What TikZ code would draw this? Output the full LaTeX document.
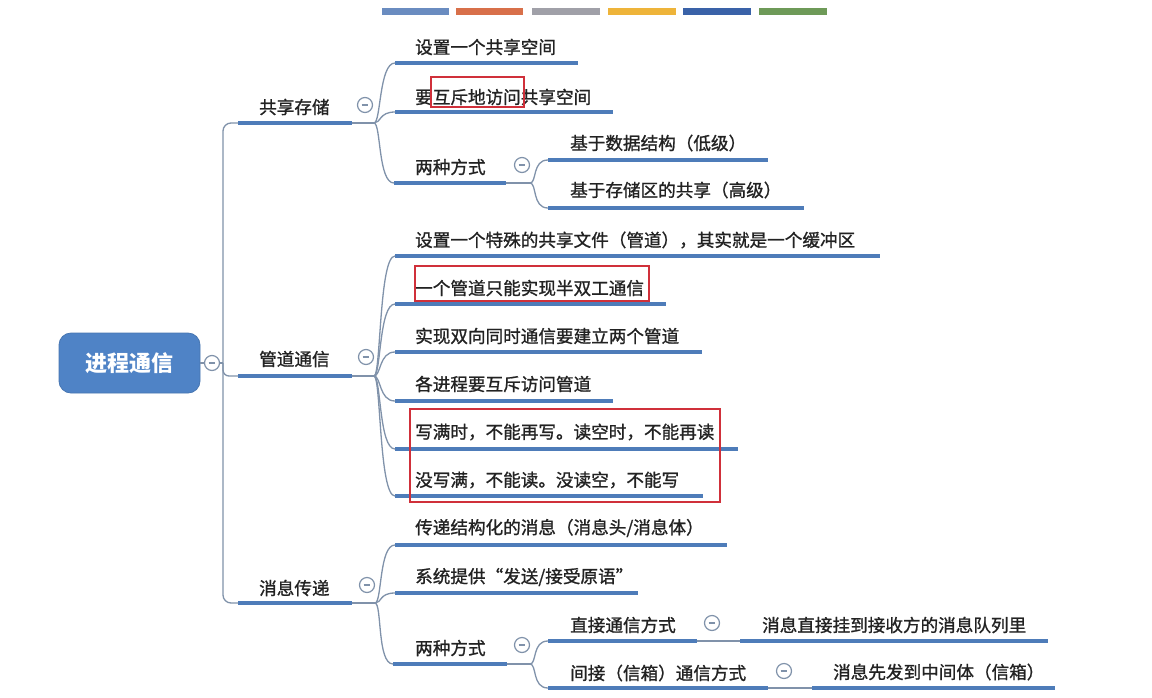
\documentclass[tikz,border=0pt]{standalone}
\usepackage{fontspec}
\newfontfamily\cjk{Noto Sans CJK SC}
\newfontfamily\cjkfb[FakeBold=1.1]{Noto Sans CJK SC}
\definecolor{ulblue}{HTML}{4E7CB9}
\definecolor{connc}{HTML}{8092AA}
\definecolor{rootc}{HTML}{4F83C6}
\definecolor{redbox}{HTML}{D0303A}
\definecolor{txtc}{HTML}{222222}
\definecolor{barA}{HTML}{6A8CC0}
\definecolor{barB}{HTML}{D8704A}
\definecolor{barC}{HTML}{A0A0A8}
\definecolor{barD}{HTML}{EEB43A}
\definecolor{barE}{HTML}{3A62A8}
\definecolor{barF}{HTML}{6E9A58}
\tikzset{
  uline/.style={line width=3.6pt, ulblue},
  conn/.style={line width=1.3pt, connc},
  txt/.style={anchor=west, inner sep=0pt, text=txtc, font=\cjkfb\fontsize{17.6}{20}\selectfont},
  rootbox/.style={rectangle, rounded corners=12pt, fill=rootc, draw=rootc!90!black, line width=0.8pt,
    minimum width=141pt, minimum height=60pt, text=white, font=\cjk\bfseries\fontsize{22}{26}\selectfont},
  fold/.style={circle, draw=connc, line width=1.2pt, fill=white, minimum size=15pt, inner sep=0pt},
  hl/.style={draw=redbox, line width=1.3pt},
  barseg/.style={line width=7pt}
}
\newcommand\mytopic[7]{%
  \coordinate (#1L) at (#2,#4);
  \coordinate (#1R) at (#3,#4);
  \draw[uline] (#1L) -- (#1R);
  \node[txt] (#1) at (#6,#5) {#7};
}
\newcommand\myfold[3]{%
  \node[fold] (#1) at (#2,#3) {};
  \draw[connc, line width=1.1pt] ($(#1)+(-3.4,0)$) -- ($(#1)+(3.4,0)$);
}
\newcommand\mybranch[2]{%
  \draw[conn] (#1) .. controls +(7,0) and +(-16,0) .. (#2);
}
\usetikzlibrary{calc}
\begin{document}
\begin{tikzpicture}[x=1pt, y=-1pt]
\useasboundingbox (0,0) rectangle (1152,697);
\fill[white] (0,0) rectangle (1152,697);

% top colour bar
\draw[barseg, barA] (382,11) -- (449,11);
\draw[barseg, barB] (456,11) -- (523,11);
\draw[barseg, barC] (532,11) -- (600,11);
\draw[barseg, barD] (608,11) -- (676,11);
\draw[barseg, barE] (683,11) -- (751,11);
\draw[barseg, barF] (759,11) -- (827,11);

% root
\node[rootbox] (root) at (129.5,363) {进程通信};
\myfold{rootf}{212}{363}
\coordinate (trunk) at (223,363);
\draw[conn] (root.east) -- (rootf.west);
\draw[conn] (rootf.east) -- (trunk);

% level 1
\mytopic{sA}{238}{352}{123}{107}{259}{共享存储}
\mytopic{sB}{238}{352}{376}{359}{259}{管道通信}
\mytopic{sC}{238}{352}{603}{588}{259}{消息传递}
\draw[conn, rounded corners=8pt] (sAL) -| (trunk) |- (sCL);
\draw[conn, rounded corners=6pt] (trunk) |- (sBL);

\myfold{fA}{365}{105}
\myfold{fB}{366}{357}
\myfold{fC}{367}{585}
\coordinate (bA) at (374,123);
\coordinate (bB) at (374,376);
\coordinate (bC) at (375,603);
\draw[conn] (sAR) -- (bA);
\draw[conn] (sBR) -- (bB);
\draw[conn] (sCR) -- (bC);

% shared storage
\mytopic{a1}{395}{578}{63}{47}{415}{设置一个共享空间}
\mytopic{a2}{395}{613}{112}{97}{415}{要互斥地访问共享空间}
\mytopic{a3}{394}{506}{183}{167}{415}{两种方式}
\mybranch{bA}{a1L}
\mybranch{bA}{a2L}
\mybranch{bA}{a3L}
\myfold{fA3}{522}{165}
\coordinate (bA3) at (530,183);
\draw[conn] (a3R) -- (bA3);
\mytopic{a31}{548}{768}{160}{143}{570}{基于数据结构（低级）}
\mytopic{a32}{548}{804}{208}{190}{570}{基于存储区的共享（高级）}
\mybranch{bA3}{a31L}
\mybranch{bA3}{a32L}
\draw[hl] (431,77) rectangle (524,107);

% pipes
\mytopic{b1}{395}{880}{256}{240}{415}{设置一个特殊的共享文件（管道），其实就是一个缓冲区}
\mytopic{b2}{395}{666}{304}{288}{415}{一个管道只能实现半双工通信}
\mytopic{b3}{395}{702}{352}{336}{415}{实现双向同时通信要建立两个管道}
\mytopic{b4}{395}{613}{401}{384}{415}{各进程要互斥访问管道}
\mytopic{b5}{395}{738}{449}{432}{415}{写满时，不能再写。读空时，不能再读}
\mytopic{b6}{395}{703}{496}{480}{415}{没写满，不能读。没读空，不能写}
\foreach \k in {b1,b2,b3,b4,b5,b6} {\mybranch{bB}{\k L}}
\draw[hl] (415,266) rectangle (649,301);
\draw[hl] (410,409) rectangle (720,502);

% messages
\mytopic{c1}{395}{727}{545}{528}{415}{传递结构化的消息（消息头/消息体）}
\mytopic{c2}{395}{638}{593}{577}{415}{系统提供“发送/接受原语”}
\mytopic{c3}{393}{507}{664}{648}{415}{两种方式}
\mybranch{bC}{c1L}
\mybranch{bC}{c2L}
\mybranch{bC}{c3L}
\myfold{fC3}{522}{645}
\coordinate (bC3) at (530,664);
\draw[conn] (c3R) -- (bC3);
\mytopic{c31}{548}{697}{641}{625}{570}{直接通信方式}
\mytopic{c32}{548}{768}{688}{673}{570}{间接（信箱）通信方式}
\mybranch{bC3}{c31L}
\mybranch{bC3}{c32L}
\myfold{fC31}{712}{623}
\myfold{fC32}{784}{671}
\mytopic{c311}{740}{1048}{641}{625}{762}{消息直接挂到接收方的消息队列里}
\mytopic{c321}{812}{1055}{688}{672}{833}{消息先发到中间体（信箱）}
\draw[conn] (c31R) -- (c311L);
\draw[conn] (c32R) -- (c321L);
\end{tikzpicture}
\end{document}
